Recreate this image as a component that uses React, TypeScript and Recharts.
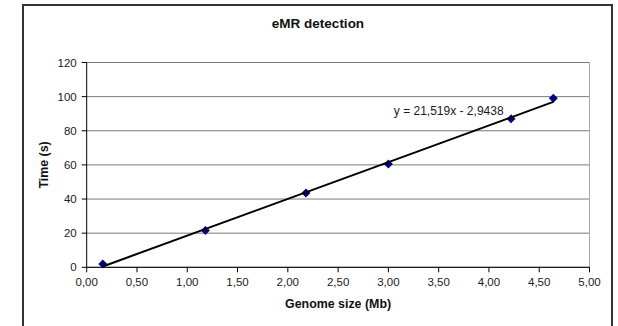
import { ScatterChart, Scatter, XAxis, YAxis, CartesianGrid, ReferenceLine, ReferenceDot, Label } from 'recharts';

const genomeSize = [0.16, 1.18, 2.18, 3.0, 4.22, 4.64];
const timeSec = [2, 21.5, 43.5, 60.5, 87, 99];

// trendline endpoints (y = 21,519x - 2,9438)
const trendX = [0.16, 4.64];
const trendY = [0.5, 96.9];

const xTicks = [0, 0.5, 1, 1.5, 2, 2.5, 3, 3.5, 4, 4.5, 5];
const yTicks = [0, 20, 40, 60, 80, 100, 120];
const equation = 'y = 21,519x - 2,9438';

const points = genomeSize.map((x, i) => ({ x, y: timeSec[i] }));
const trend = trendX.map((x, i) => ({ x, y: trendY[i] }));

const font = '"Liberation Sans", Arial, sans-serif';

const Diamond = (props: any) => {
  const { cx, cy } = props;
  if (cx == null || cy == null) return <g />;
  const r = 4.5;
  return <polygon points={`${cx},${cy - r} ${cx + r},${cy} ${cx},${cy + r} ${cx - r},${cy}`} fill="#000080" />;
};

export default function App() {
  return (
    <div style={{ position: 'absolute', left: 0, top: 0, width: 618, height: 326, background: '#fff', overflow: 'hidden', fontFamily: font }}>
      <div style={{ position: 'absolute', left: 0, top: 16, width: 636, textAlign: 'center', fontSize: 13.5, fontWeight: 'bold', color: '#111' }}>
        eMR detection
      </div>
      <ScatterChart width={618} height={326} margin={{ top: 62.5, right: 28.5, bottom: 28.7, left: 0 }} style={{ position: 'absolute', left: 0, top: 0 }}>
        <CartesianGrid vertical={false} stroke="#7a7a7a" strokeWidth={1} />
        <ReferenceLine x={5} stroke="#a8a8a8" />
        <XAxis
          type="number"
          dataKey="x"
          domain={[0, 5]}
          ticks={xTicks}
          height={30}
          tickFormatter={(v: number) => v.toFixed(2).replace('.', ',')}
          stroke="#000"
          tickSize={5}
          tickMargin={6}
          tick={{ fill: '#1a1a1a', fontSize: 11.5, fontFamily: font }}
          interval={0}
        >
          <Label value="Genome size (Mb)" position="bottom" offset={2} style={{ fontWeight: 'bold', fontSize: 12.4, fill: '#111', fontFamily: font }} />
        </XAxis>
        <YAxis
          type="number"
          dataKey="y"
          domain={[0, 120]}
          ticks={yTicks}
          width={86.7}
          stroke="#000"
          tickSize={5}
          tickMargin={5}
          tick={{ fill: '#1a1a1a', fontSize: 11.5, fontFamily: font }}
          interval={0}
        >
          <Label value="Time (s)" angle={-90} position="insideLeft" offset={44} style={{ fontWeight: 'bold', fontSize: 12.4, fill: '#111', fontFamily: font, textAnchor: 'middle' }} />
        </YAxis>
        <Scatter data={points} shape={Diamond} isAnimationActive={false} />
        <Scatter data={trend} line={{ stroke: '#000', strokeWidth: 2 }} shape={() => <g />} isAnimationActive={false} />
        <ReferenceDot x={3.6} y={92} r={0} fill="none" stroke="none">
          <Label value={equation} position="center" style={{ fontSize: 12, fill: '#1a1a1a', fontFamily: font }} />
        </ReferenceDot>
      </ScatterChart>
      <div style={{ position: 'absolute', left: 22, top: 4, width: 591, height: 340, border: '2px solid #333', boxSizing: 'border-box', zIndex: 2, pointerEvents: 'none' }} />
    </div>
  );
}
